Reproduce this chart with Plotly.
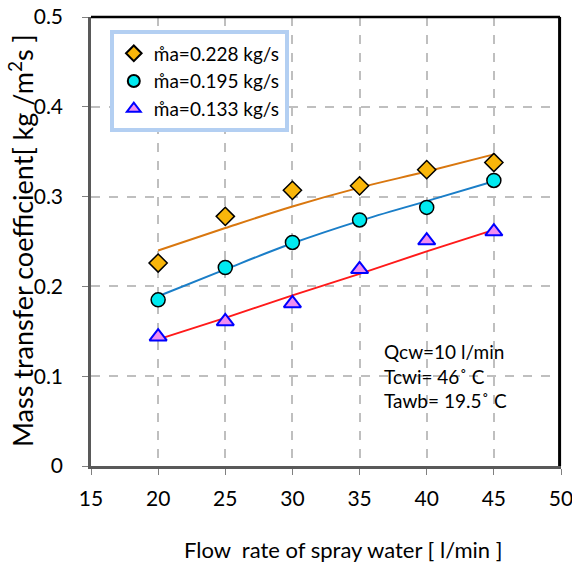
import plotly.graph_objects as go

flow = [20, 25, 30, 35, 40, 45]
k_228 = [0.226, 0.278, 0.307, 0.312, 0.330, 0.338]
k_195 = [0.185, 0.221, 0.249, 0.274, 0.288, 0.318]
k_133 = [0.144, 0.161, 0.181, 0.219, 0.251, 0.261]

trend_228 = [0.240, 0.265, 0.289, 0.310, 0.328, 0.347]
trend_195 = [0.189, 0.219, 0.248, 0.273, 0.295, 0.317]
trend_133 = [0.141, 0.165, 0.190, 0.214, 0.239, 0.263]

names = ["m\u030aa=0.228 kg/s", "m\u030aa=0.195 kg/s", "m\u030aa=0.133 kg/s"]
x_ticks = [15, 20, 25, 30, 35, 40, 45, 50]
y_ticks = [0, 0.1, 0.2, 0.3, 0.4, 0.5]
y_tick_text = ["0", "0.1", "0.2", "0.3", "0.4", "0.5"]

FONT = "Lato, 'Open Sans', sans-serif"

fig = go.Figure()

fig.add_trace(go.Scatter(x=flow, y=trend_228, mode="lines", line=dict(color="#d9770f", width=2, shape="spline"),
                         showlegend=False, hoverinfo="skip"))
fig.add_trace(go.Scatter(x=flow, y=trend_195, mode="lines", line=dict(color="#1a7ec8", width=2, shape="spline"),
                         showlegend=False, hoverinfo="skip"))
fig.add_trace(go.Scatter(x=flow, y=trend_133, mode="lines", line=dict(color="#ff1a1a", width=2, shape="spline"),
                         showlegend=False, hoverinfo="skip"))

fig.add_trace(go.Scatter(x=flow, y=k_228, mode="markers", name=names[0],
                         marker=dict(symbol="diamond", size=14, color="#f9b60a",
                                     line=dict(color="black", width=1.5))))
fig.add_trace(go.Scatter(x=flow, y=k_195, mode="markers", name=names[1],
                         marker=dict(symbol="circle", size=14, color="#00eaf0",
                                     line=dict(color="black", width=1.5))))
fig.add_trace(go.Scatter(x=flow, y=k_133, mode="markers", name=names[2],
                         marker=dict(symbol="triangle-up", size=15, color="#f08ef0",
                                     line=dict(color="#0000ff", width=2))))

fig.update_layout(
    width=572, height=570,
    margin=dict(l=91, r=11, t=17, b=104),
    paper_bgcolor="white", plot_bgcolor="white",
    font=dict(family=FONT, size=20, color="#000000"),
    legend=dict(x=0.04, y=0.97, xanchor="left", yanchor="top",
                bgcolor="white", bordercolor="#b3cff2", borderwidth=4,
                font=dict(family=FONT, size=19), itemsizing="constant",
                tracegroupgap=2, itemwidth=30),
    xaxis=dict(range=[15, 50], tickvals=x_ticks, showgrid=True, automargin=False,
               gridcolor="#bfbfbf", griddash="dash", gridwidth=1.5,
               showline=True, linecolor="#595959", linewidth=2.5,
               ticks="outside", ticklen=6, tickcolor="#808080",
               zeroline=False, tickfont=dict(size=21), ticklabelstandoff=6,
               ticklabeloverflow="allow"),
    yaxis=dict(range=[0, 0.5], tickvals=y_ticks, ticktext=y_tick_text, showgrid=True, automargin=False,
               gridcolor="#bfbfbf", griddash="dash", gridwidth=1.5,
               showline=True, linecolor="#595959", linewidth=2.5,
               ticks="outside", ticklen=6, tickcolor="#808080",
               zeroline=False, tickfont=dict(size=21), ticklabelstandoff=15,
               ticklabeloverflow="allow"),
    shapes=[
        dict(type="line", xref="paper", yref="paper", x0=0, x1=0.998, y0=1, y1=1,
             line=dict(color="black", width=2.5), layer="above"),
        dict(type="line", xref="paper", yref="paper", x0=0.997, x1=0.997, y0=0, y1=1,
             line=dict(color="black", width=3), layer="above"),
    ],
    annotations=[
        dict(x=0.62, y=0.2856, xref="paper", yref="paper", xanchor="left", yanchor="top",
             align="left", showarrow=False, font=dict(family=FONT, size=19),
             text="Qcw=10 l/min<br>Tcwi= 46\u02da C<br>Tawb= 19.5\u02da C"),
        dict(x=0.538, y=-0.187, xref="paper", yref="paper", xanchor="center", yanchor="middle",
             showarrow=False, font=dict(family=FONT, size=22),
             text="Flow  rate of spray water [ l/min ]"),
        dict(x=-0.149, y=0.503, xref="paper", yref="paper", xanchor="center", yanchor="middle",
             showarrow=False, textangle=-90, font=dict(family=FONT, size=27),
             text="Mass transfer coefficient[ kg /m<sup>2</sup>s ]"),
    ],
)

fig.write_html("out.html")
